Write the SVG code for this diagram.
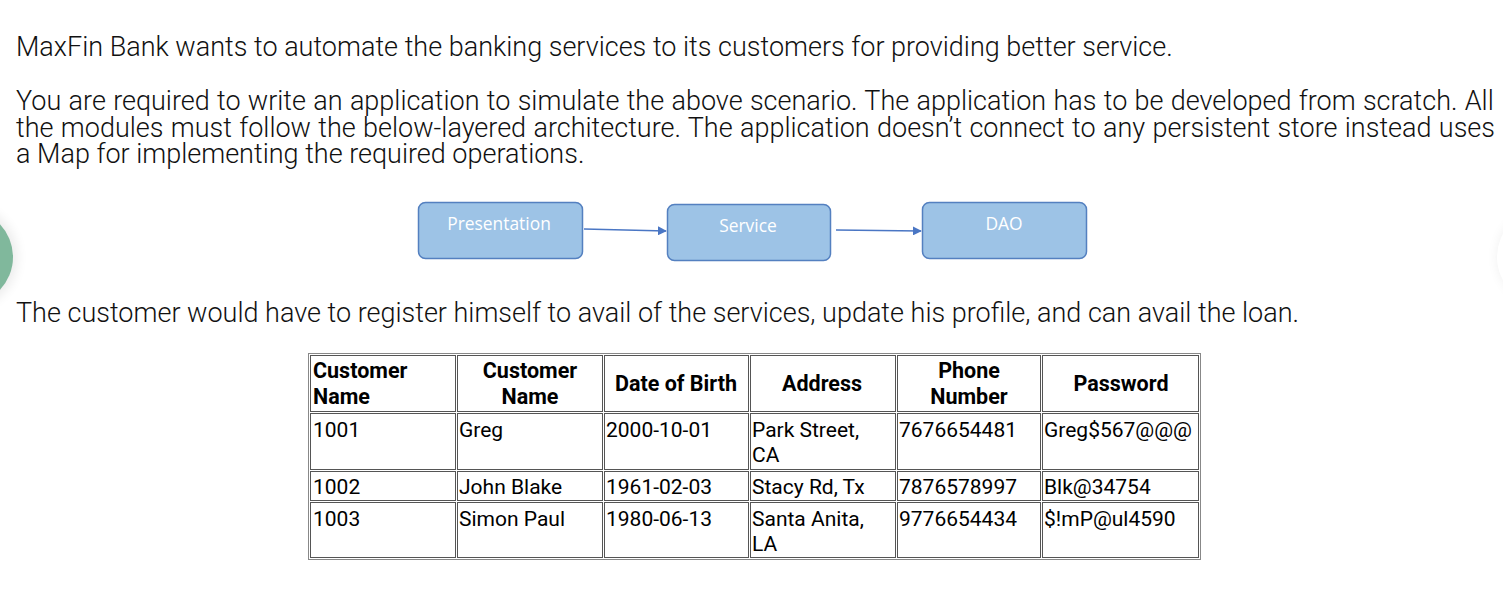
<svg xmlns="http://www.w3.org/2000/svg" width="1503" height="607" viewBox="0 0 1503 607">
<defs>
<style>
.para{font-family:Roboto,"Liberation Sans",sans-serif;font-weight:300;font-size:27px;fill:#111}
.box{fill:#9dc3e6;stroke:#5480c0;stroke-width:1.5}
.blbl{font-family:"Open Sans","Liberation Sans",sans-serif;font-size:17.4px;fill:#ffffff;text-anchor:middle}
.conn{stroke:#4a76c4;stroke-width:1.5;fill:none}
.cell{fill:none;stroke:#555;stroke-width:1}
.outer{fill:none;stroke:#888;stroke-width:1}
.th{font-family:Roboto,"Liberation Sans",sans-serif;font-weight:700;font-size:21.5px;fill:#000}
.td{font-family:Roboto,"Liberation Sans",sans-serif;font-weight:400;font-size:21px;fill:#000}
.c{text-anchor:middle}
</style>
<marker id="arr" viewBox="0 0 10 10" refX="9" refY="5" markerWidth="9" markerHeight="9" orient="auto" markerUnits="userSpaceOnUse">
<path d="M0,0 L10,5 L0,10 z" fill="#4a76c4"/>
</marker>
<filter id="sh" x="-50%" y="-50%" width="200%" height="200%">
<feGaussianBlur stdDeviation="6"/>
</filter>
</defs>
<rect width="1503" height="607" fill="#ffffff"/>

<!-- side decorations -->
<circle cx="-35" cy="257" r="52" fill="#000" opacity="0.08" filter="url(#sh)"/>
<circle cx="-35" cy="257" r="48" fill="#80b89c"/>
<circle cx="1545" cy="257" r="48" fill="#000" opacity="0.06" filter="url(#sh)"/>
<circle cx="1545" cy="257" r="48" fill="#ffffff"/>

<!-- paragraphs -->
<text class="para" x="16" y="56">MaxFin Bank wants to automate the banking services to its customers for providing better service.</text>
<text class="para" x="16" y="110" word-spacing="0.7">You are required to write an application to simulate the above scenario. The application has to be developed from scratch. All</text>
<text class="para" x="16" y="137" word-spacing="0.75">the modules must follow the below-layered architecture. The application doesn’t connect to any persistent store instead uses</text>
<text class="para" x="16" y="163">a Map for implementing the required operations.</text>
<text class="para" x="16" y="322">The customer would have to register himself to avail of the services, update his profile, and can avail the loan.</text>

<!-- layered diagram -->
<g id="node-presentation">
<rect class="box" x="418.5" y="202.5" width="164" height="56" rx="7"/>
<text class="blbl" x="499" y="230">Presentation</text>
</g>
<g id="node-service">
<rect class="box" x="667.5" y="204.5" width="163" height="56" rx="7"/>
<text class="blbl" x="748" y="232">Service</text>
</g>
<g id="node-dao">
<rect class="box" x="922.5" y="202.5" width="164" height="56" rx="7"/>
<text class="blbl" x="1004" y="230">DAO</text>
</g>
<g id="connectors">
<line class="conn" x1="584" y1="229" x2="666" y2="231" marker-end="url(#arr)"/>
<line class="conn" x1="836" y1="230" x2="921" y2="231" marker-end="url(#arr)"/>
</g>

<!-- table -->
<g id="table">
<rect class="outer" x="308.5" y="353.5" width="892" height="206"/>
<!-- header row -->
<rect class="cell" x="310.5" y="355.5" width="145" height="56"/>
<rect class="cell" x="457.5" y="355.5" width="145" height="56"/>
<rect class="cell" x="604.5" y="355.5" width="144" height="56"/>
<rect class="cell" x="750.5" y="355.5" width="145" height="56"/>
<rect class="cell" x="897.5" y="355.5" width="143" height="56"/>
<rect class="cell" x="1042.5" y="355.5" width="156" height="56"/>
<!-- row 1 -->
<rect class="cell" x="310.5" y="413.5" width="145" height="56"/>
<rect class="cell" x="457.5" y="413.5" width="145" height="56"/>
<rect class="cell" x="604.5" y="413.5" width="144" height="56"/>
<rect class="cell" x="750.5" y="413.5" width="145" height="56"/>
<rect class="cell" x="897.5" y="413.5" width="143" height="56"/>
<rect class="cell" x="1042.5" y="413.5" width="156" height="56"/>
<!-- row 2 -->
<rect class="cell" x="310.5" y="471.5" width="145" height="29"/>
<rect class="cell" x="457.5" y="471.5" width="145" height="29"/>
<rect class="cell" x="604.5" y="471.5" width="144" height="29"/>
<rect class="cell" x="750.5" y="471.5" width="145" height="29"/>
<rect class="cell" x="897.5" y="471.5" width="143" height="29"/>
<rect class="cell" x="1042.5" y="471.5" width="156" height="29"/>
<!-- row 3 -->
<rect class="cell" x="310.5" y="502.5" width="145" height="55"/>
<rect class="cell" x="457.5" y="502.5" width="145" height="55"/>
<rect class="cell" x="604.5" y="502.5" width="144" height="55"/>
<rect class="cell" x="750.5" y="502.5" width="145" height="55"/>
<rect class="cell" x="897.5" y="502.5" width="143" height="55"/>
<rect class="cell" x="1042.5" y="502.5" width="156" height="55"/>

<!-- header text -->
<text class="th" x="313" y="378">Customer</text>
<text class="th" x="313" y="404">Name</text>
<text class="th c" x="530" y="378">Customer</text>
<text class="th c" x="530" y="404">Name</text>
<text class="th c" x="676" y="391">Date of Birth</text>
<text class="th c" x="822" y="391">Address</text>
<text class="th c" x="969" y="378">Phone</text>
<text class="th c" x="969" y="404">Number</text>
<text class="th c" x="1121" y="391">Password</text>

<!-- row 1 -->
<text class="td" x="313" y="437">1001</text>
<text class="td" x="459" y="437">Greg</text>
<text class="td" x="606" y="437">2000-10-01</text>
<text class="td" x="752" y="437">Park Street,</text>
<text class="td" x="752" y="462">CA</text>
<text class="td" x="899" y="437">7676654481</text>
<text class="td" x="1044" y="437">Greg$567@@@</text>
<!-- row 2 -->
<text class="td" x="313" y="494">1002</text>
<text class="td" x="459" y="494">John Blake</text>
<text class="td" x="606" y="494">1961-02-03</text>
<text class="td" x="752" y="494">Stacy Rd, Tx</text>
<text class="td" x="899" y="494">7876578997</text>
<text class="td" x="1044" y="494">Blk@34754</text>
<!-- row 3 -->
<text class="td" x="313" y="526">1003</text>
<text class="td" x="459" y="526">Simon Paul</text>
<text class="td" x="606" y="526">1980-06-13</text>
<text class="td" x="752" y="526">Santa Anita,</text>
<text class="td" x="752" y="551">LA</text>
<text class="td" x="899" y="526">9776654434</text>
<text class="td" x="1044" y="526">$!mP@ul4590</text>
</g>
</svg>
